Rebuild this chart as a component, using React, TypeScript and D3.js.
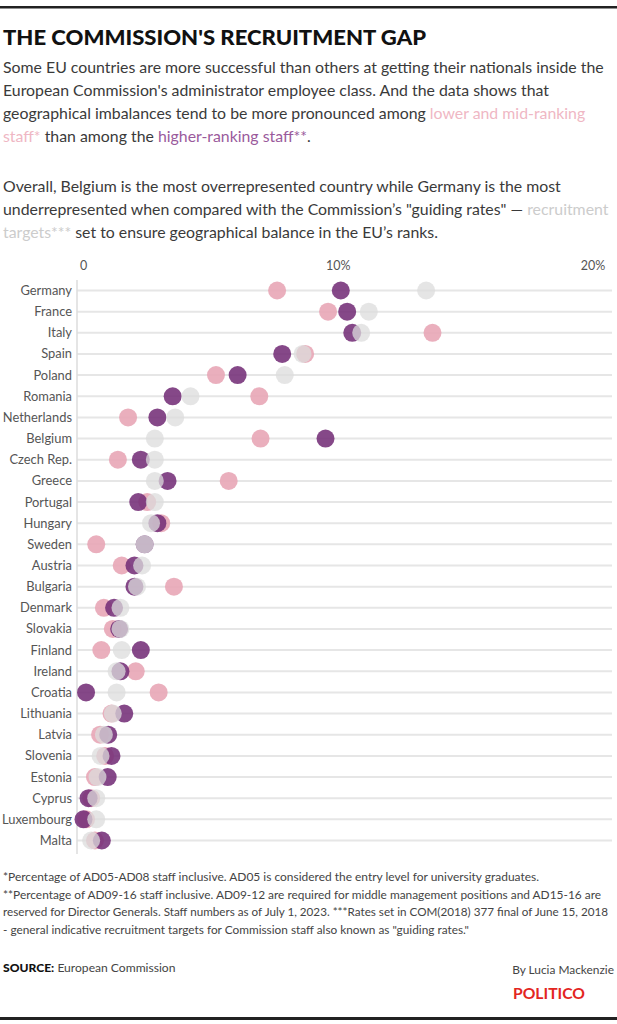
import React from "react";
import * as d3 from "d3";

const countries = [
  "Germany", "France", "Italy", "Spain", "Poland", "Romania", "Netherlands", "Belgium",
  "Czech Rep.", "Greece", "Portugal", "Hungary", "Sweden", "Austria", "Bulgaria", "Denmark",
  "Slovakia", "Finland", "Ireland", "Croatia", "Lithuania", "Latvia", "Slovenia", "Estonia",
  "Cyprus", "Luxembourg", "Malta",
];
// lower and mid-ranking staff (AD05-AD08), %
const lowerMid = [
  7.6, 9.6, 13.7, 8.7, 5.2, 6.9, 1.75, 6.95,
  1.35, 5.7, 2.5, 3.05, 0.5, 1.5, 3.55, 0.8,
  1.15, 0.7, 2.05, 2.95, 1.1, 0.65, 0.85, 0.45,
  0.3, 0.1, 0.45,
];
// higher-ranking staff (AD09-16), %
const higher = [
  10.1, 10.35, 10.55, 7.8, 6.05, 3.5, 2.9, 9.5,
  2.25, 3.3, 2.15, 2.9, 2.4, 2.0, 2.0, 1.2,
  1.4, 2.25, 1.45, 0.1, 1.6, 0.97, 1.1, 0.95,
  0.2, 0.0, 0.72,
];
// guiding rates, %
const guiding = [
  13.45, 11.2, 10.9, 8.6, 7.9, 4.2, 3.6, 2.8,
  2.8, 2.8, 2.8, 2.65, 2.4, 2.3, 2.1, 1.45,
  1.45, 1.5, 1.3, 1.3, 1.15, 0.8, 0.67, 0.55,
  0.5, 0.5, 0.3,
];
const xTicks = [0, 10, 20];
const xTickLabels = ["0", "10%", "20%"];

const footnotes = [
  "*Percentage of AD05-AD08 staff inclusive. AD05 is considered the entry level for university graduates.",
  "**Percentage of AD09-16 staff inclusive. AD09-12 are required for middle management positions and AD15-16 are",
  "reserved for Director Generals. Staff numbers as of July 1, 2023. ***Rates set in COM(2018) 377 final of June 15, 2018",
  "- general indicative recruitment targets for Commission staff also known as \"guiding rates.\"",
];
const footnoteWidths = [536, 598, 605, 466];

const FONT = "Lato, 'Open Sans', sans-serif";
const PINK = "#e8a6b6";
const PURPLE = "#742f78";
const GRAY = "#dcdcdc";

export default function App() {
  const W = 617;
  const H = 1024;
  const x = d3.scaleLinear().domain([0, 20]).range([83.5, 593]);
  const y = d3.scalePoint<string>().domain(countries).range([290.5, 840.5]);
  const r = 9;

  const p1 = 72.5;
  const ls = 23.3;
  const p2 = 191.5;

  return (
    <svg
      width={W}
      height={H}
      style={{ position: "absolute", left: 0, top: 0, fontFamily: FONT }}
    >
      <rect x={0} y={0} width={W} height={H} fill="#fff" />
      <rect x={0} y={6} width={W} height={2.5} fill="#222" />
      <rect x={0} y={1017} width={W} height={3} fill="#222" />

      <text x={3} y={45} fontSize={21} fontWeight={900} fill="#111" textLength={423} lengthAdjust="spacingAndGlyphs">
        THE COMMISSION'S RECRUITMENT GAP
      </text>

      <g fontSize={15.85} fill="#3a3a3a">
        <text x={3} y={p1}>Some EU countries are more successful than others at getting their nationals inside the</text>
        <text x={3} y={p1 + ls}>European Commission's administrator employee class. And the data shows that</text>
        <text x={3} y={p1 + 2 * ls}>
          geographical imbalances tend to be more pronounced among{" "}
          <tspan fill="#efb7c4">lower and mid-ranking</tspan>
        </text>
        <text x={3} y={p1 + 3 * ls}>
          <tspan fill="#efb7c4">staff*</tspan> than among the{" "}
          <tspan fill="#9a5a9c">higher-ranking staff**</tspan>.
        </text>
        <text x={3} y={p2}>Overall, Belgium is the most overrepresented country while Germany is the most</text>
        <text x={3} y={p2 + ls}>
          underrepresented when compared with the Commission’s "guiding rates" —{" "}
          <tspan fill="#cccccc">recruitment</tspan>
        </text>
        <text x={3} y={p2 + 2 * ls}>
          <tspan fill="#cccccc">targets***</tspan> set to ensure geographical balance in the EU’s ranks.
        </text>
      </g>

      {/* axis tick labels */}
      <g fontSize={12.5} fill="#555" textAnchor="middle">
        {xTicks.map((t, i) => (
          <text key={t} x={x(t)} y={270}>
            {xTickLabels[i]}
          </text>
        ))}
      </g>

      {/* gridlines */}
      <g>
        {countries.map((c) => (
          <line key={c} x1={77} x2={612} y1={y(c)} y2={y(c)} stroke="#e6e6e6" strokeWidth={2} />
        ))}
        <line x1={77} x2={77} y1={280} y2={854} stroke="#dddddd" strokeWidth={1.5} />
      </g>

      {/* country labels */}
      <g fontSize={12.9} fill="#555" textAnchor="end">
        {countries.map((c) => (
          <text key={c} x={72} y={(y(c) as number) + 4.5}>
            {c}
          </text>
        ))}
      </g>

      {/* dots */}
      <g>
        {countries.map((c, i) => (
          <circle key={c} cx={x(lowerMid[i])} cy={y(c)} r={r} fill={PINK} fillOpacity={0.9} />
        ))}
        {countries.map((c, i) => (
          <circle key={c} cx={x(higher[i])} cy={y(c)} r={r} fill={PURPLE} fillOpacity={0.88} />
        ))}
        {countries.map((c, i) => (
          <circle key={c} cx={x(guiding[i])} cy={y(c)} r={r} fill={GRAY} fillOpacity={0.75} />
        ))}
      </g>

      {/* footnotes */}
      <g fontSize={11.6} fill="#444">
        {footnotes.map((f, i) => (
          <text
            key={i}
            x={3}
            y={881 + i * 17.5}
            textLength={footnoteWidths[i]}
            lengthAdjust="spacingAndGlyphs"
          >
            {f}
          </text>
        ))}
      </g>

      <text x={3} y={972} fontSize={12.1} fill="#444">
        <tspan fontWeight={900} fill="#111">SOURCE:</tspan> European Commission
      </text>
      <text x={614} y={974} fontSize={11.9} fill="#444" textAnchor="end">
        By Lucia Mackenzie
      </text>
      <text x={513} y={999} fontSize={15} fontWeight={700} fill="#e3261f" textLength={72} lengthAdjust="spacingAndGlyphs">
        POLITICO
      </text>
    </svg>
  );
}
